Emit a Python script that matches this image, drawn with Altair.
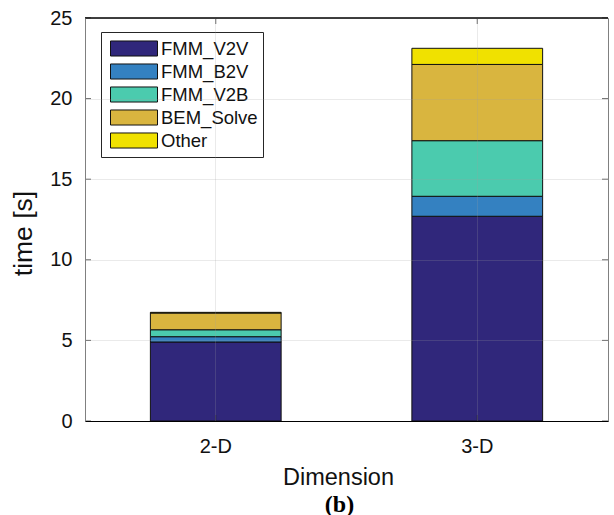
import altair as alt
import pandas as pd

# Timing breakdown per problem dimension (seconds)
dimensions = ["2-D", "3-D"]
components = ["FMM_V2V", "FMM_B2V", "FMM_V2B", "BEM_Solve", "Other"]
time_2d = [4.90, 0.33, 0.43, 1.04, 0.04]
time_3d = [12.70, 1.24, 3.45, 4.73, 1.00]
palette = ["#30277b", "#3481c1", "#4bcbae", "#d9b53f", "#f0e100"]
y_ticks = [0, 5, 10, 15, 20, 25]

rows = []
for dim, times in zip(dimensions, [time_2d, time_3d]):
    for k, (comp, t) in enumerate(zip(components, times)):
        rows.append({"Dimension": dim, "Component": comp, "time": t, "order": k})
df = pd.DataFrame(rows)

W, H = 523, 403
FONT = "Liberation Sans"
INK = "#111111"

x_scale = alt.Scale(domain=dimensions, paddingInner=0.5, paddingOuter=0.25)
y_scale = alt.Scale(domain=[0, 25], nice=False, zero=True)

# wide flat rectangle used as legend swatch
swatch = "M-1,-0.32L1,-0.32L1,0.32L-1,0.32Z"

bars = alt.Chart(df).mark_bar(stroke="#111111", strokeWidth=1, opacity=1).encode(
    x=alt.X("Dimension:N", scale=x_scale,
            axis=alt.Axis(title="Dimension", labelAngle=0, grid=True,
                          bandPosition=0.5, ticks=False, tickSize=0,
                          labelPadding=15, titlePadding=9, titleX=253,
                          titleFontSize=23.5,
                          domainColor="#000000", zindex=1)),
    y=alt.Y("time:Q", stack="zero", scale=y_scale,
            axis=alt.Axis(title="time [s]", values=y_ticks, grid=True,
                          ticks=False, tickSize=0, labelPadding=13,
                          titlePadding=12, titleY=215, titleFontSize=26.5,
                          domainColor="#808080", zindex=1)),
    color=alt.Color("Component:N",
                    scale=alt.Scale(domain=components, range=palette),
                    legend=alt.Legend(title=None, orient="none",
                                      legendX=16, legendY=14,
                                      symbolType=swatch, symbolSize=2209,
                                      symbolStrokeColor="#111111",
                                      symbolStrokeWidth=1, symbolOpacity=1,
                                      clipHeight=23, rowPadding=0,
                                      padding=5, symbolOffset=4, labelOffset=3,
                                      labelFont=FONT, labelFontSize=18.5,
                                      labelColor=INK, labelLimit=300,
                                      fillColor="white", strokeColor="#262626")),
    order=alt.Order("order:Q", sort="ascending"),
)

tick_style = dict(color="#262626", thickness=1, size=6)
ydf = pd.DataFrame({"v": y_ticks})
xdf = pd.DataFrame({"Dimension": dimensions})

y_ticks_left = alt.Chart(ydf).mark_tick(orient="horizontal", **tick_style).encode(
    y=alt.Y("v:Q", scale=y_scale), x=alt.value(3))
y_ticks_right = alt.Chart(ydf).mark_tick(orient="horizontal", **tick_style).encode(
    y=alt.Y("v:Q", scale=y_scale), x=alt.value(W - 3))
x_ticks_bottom = alt.Chart(xdf).mark_tick(orient="vertical", **tick_style).encode(
    x=alt.X("Dimension:N", scale=x_scale), y=alt.value(H - 3))
x_ticks_top = alt.Chart(xdf).mark_tick(orient="vertical", **tick_style).encode(
    x=alt.X("Dimension:N", scale=x_scale), y=alt.value(3))

top_edge = alt.Chart(xdf).mark_rule(color="#000000", strokeWidth=1).encode(
    x=alt.value(0), x2=alt.value(W), y=alt.value(0))

chart = alt.layer(
    bars, y_ticks_left, y_ticks_right, x_ticks_bottom, x_ticks_top, top_edge
).properties(
    width=W, height=H,
    autosize=alt.AutoSizeParams(type="none"),
    padding={"left": 85, "top": 18, "right": 6, "bottom": 94},
    title=alt.TitleParams("(b)", orient="bottom", anchor="middle",
                          font="Liberation Serif", fontWeight="bold",
                          fontSize=24, color="#000000", offset=4, dx=-7),
).configure_view(
    stroke="#808080", strokeWidth=1
).configure_axis(
    labelFont=FONT, labelFontSize=20, labelColor=INK,
    titleFont=FONT, titleColor=INK, titleFontWeight="normal",
    gridColor="#a0a0a0", gridOpacity=0.22, gridWidth=1,
)

chart.save("out.html", embed_options={"renderer": "svg", "actions": False})
